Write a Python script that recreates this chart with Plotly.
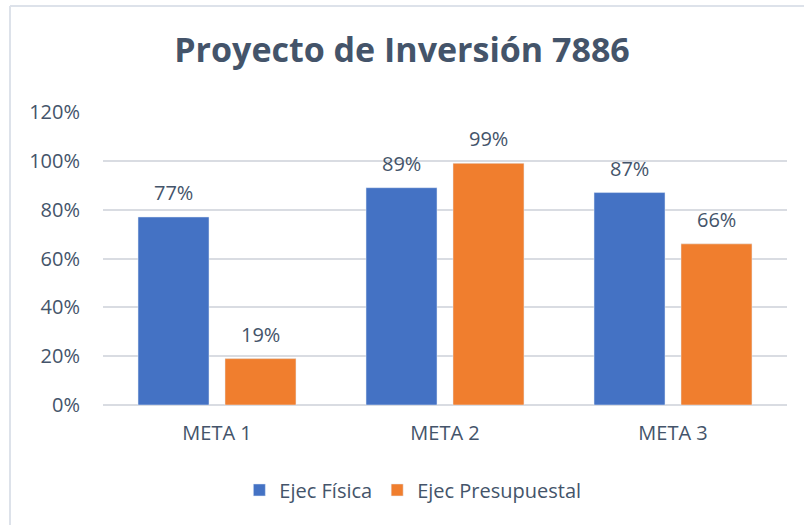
import plotly.graph_objects as go

metas = ['META 1', 'META 2', 'META 3']
ejec_fisica = [77, 89, 87]
ejec_presupuestal = [19, 99, 66]
y_ticks = [0, 20, 40, 60, 80, 100, 120]
y_labels = ['0%', '20%', '40%', '60%', '80%', '100%', '120%']

txt = '#44546A'
font = 'Open Sans'

fig = go.Figure()
fig.add_trace(go.Bar(x=metas, y=ejec_fisica, name='Ejec Física', marker_color='#4472C4'))
fig.add_trace(go.Bar(x=metas, y=ejec_presupuestal, name='Ejec Presupuestal', marker_color='#F07E2E'))

# data labels above each bar
for vals, shift in [(ejec_fisica, -43.5), (ejec_presupuestal, 43.5)]:
    for m, v in zip(metas, vals):
        fig.add_annotation(x=m, y=v, text=f'{v}%', showarrow=False, xshift=shift,
                           yanchor='bottom', yshift=9,
                           font=dict(family=font, size=20, color=txt))

fig.update_layout(
    width=804, height=525,
    paper_bgcolor='white', plot_bgcolor='white',
    margin=dict(l=103, r=17, t=112, b=120),
    title=dict(text='<b>Proyecto de Inversión 7886</b>', x=0.5, xanchor='center',
               y=1 - 50 / 525, yanchor='middle',
               font=dict(family=font, size=34, color=txt)),
    barmode='group', bargap=0.237, bargroupgap=0.184,
    legend=dict(orientation='h', x=0.453, xanchor='center', y=-0.29, yanchor='middle',
                font=dict(family=font, size=20, color=txt), traceorder='normal'),
    xaxis=dict(tickfont=dict(family=font, size=20, color=txt), showline=False, ticks='',
               ticklabelstandoff=14),
    yaxis=dict(range=[0, 120], tickvals=y_ticks, ticktext=y_labels,
               tickfont=dict(family=font, size=20, color=txt),
               gridcolor='#D9DCE2', gridwidth=1.5, zeroline=True, zerolinecolor='#D9DCE2',
               zerolinewidth=1.5, ticks='', ticklabelstandoff=22),
    shapes=[
        dict(type='line', xref='paper', yref='paper', x0=-93 / 684, x1=1 + 17 / 684,
             y0=1 + 106 / 293, y1=1 + 106 / 293, line=dict(color='#DDE2EA', width=2)),
        dict(type='line', xref='paper', yref='paper', x0=-93 / 684, x1=-93 / 684,
             y0=1 + 106 / 293, y1=-120 / 293, line=dict(color='#DDE2EA', width=2)),
    ],
)

fig.write_html('out.html', config={'displayModeBar': False},
               post_script="document.body.style.margin='0';")
